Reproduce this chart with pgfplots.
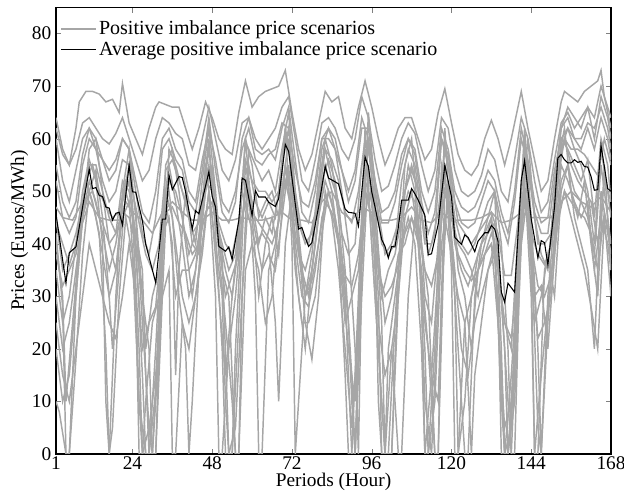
\documentclass[border=0pt]{standalone}
\usepackage{fontspec}
\setmainfont{Liberation Serif}
\usepackage{pgfplots}
\pgfplotsset{compat=1.18}

\definecolor{scgray}{RGB}{166,166,166}
\pgfplotsset{scen/.style={color=scgray, line width=1.1pt, forget plot}}

\begin{document}
\begin{tikzpicture}
\begin{axis}[
    scale only axis,
    width=416.25pt, height=335pt,
    xmin=1, xmax=168, ymin=0, ymax=85,
    xtick={1,24,48,72,96,120,144,168},
    ytick={0,10,...,80},
    tick align=inside, tick pos=both,
    major tick length=4pt,
    font=\fontsize{14.5}{17}\selectfont,
    /pgf/number format/assume math mode=true,
    xlabel={Periods (Hour)}, ylabel={Prices (Euros/MWh)},
    xlabel style={inner sep=0pt, yshift=-2.5pt}, ylabel style={yshift=-4pt},
    xticklabel style={inner sep=0.5pt, yshift=-1pt},
    axis line style={line width=0.9pt},
    legend style={at={(axis description cs:0,1)}, anchor=north west,
        draw=none, fill=none, xshift=0pt, yshift=-6pt,
        row sep=-0.5pt, font=\fontsize{15}{17}\selectfont},
    legend cell align=left,
    legend image code/.code={\draw[#1] (0pt,0pt) -- (26pt,0pt);},
  ]
  % top envelope scenario
  \addplot[color=scgray, line width=1.1pt] coordinates {
    (1,64)(3,58)(5,55)(7,62)(8,67)(10,69)(12,69)(14,68.5)(16,67)(18,67.5)(20,65)(21,70.5)(23,63)(25,60)(27,57)(29,62)(31,66)(32,67)(34,66.5)(36,66)(38,66)(40,62)(42,58)(44,62)(46,67)(48,64)(50,60)(52,58)(54,57)(56,65)(58,71)(60,66)(62,68)(64,69)(66,69.5)(68,70)(70,73)(72,65)(74,58)(76,54)(78,57)(80,63)(82,69)(84,67)(86,68)(88,62)(90,60)(92,66)(94,71)(96,66)(98,60)(100,55)(102,58)(104,62)(106,64)(108,64)(110,60)(112,56)(114,58)(116,65)(118,69.5)(120,63)(122,57)(124,54)(126,53)(128,55)(130,60)(132,63.5)(134,60)(136,55)(138,60)(140,66)(141,69)(143,62)(145,56)(147,50)(149,52)(151,60)(153,67)(154,69)(156,68)(158,67)(160,69)(162,70)(164,71)(165,73)(166,68)(168,62)
  };
  \addlegendentry{Positive imbalance price scenarios}
  \addplot[scen] coordinates {
    (1,62)(3,57)(5,55)(7,58)(9,63)(11,64)(13,62)(15,60)(17,59)(19,61)(21,64)(23,60)(25,56)(27,52)(29,54)(31,60)(33,64)(35,63)(37,61)(39,60)(41,55)(43,54)(45,60)(47,66)(49,60)(51,54)(53,52)(55,56)(57,63)(59,64)(61,60)(63,58)(65,60)(67,62)(69,66)(71,68)(73,60)(75,52)(77,50)(79,56)(81,63)(83,64)(85,62)(87,58)(89,56)(91,60)(93,68)(95,64)(97,56)(99,50)(101,51)(103,55)(105,60)(107,63)(109,61)(111,55)(113,50)(115,54)(117,64)(119,62)(121,54)(123,50)(125,49)(127,50)(129,53)(131,58)(133,56)(135,50)(137,48)(139,56)(141,64)(143,60)(145,52)(147,46)(149,48)(151,56)(153,63)(155,65)(157,62)(159,64)(161,66)(163,64)(165,70)(167,66)(168,64)
  };
  \addplot[scen] coordinates {
    (1,60)(3,52)(5,48)(7,54)(9,60)(11,62)(13,58)(15,56)(17,54)(19,56)(21,60)(23,58)(25,52)(27,46)(29,44)(31,50)(33,60)(35,62)(37,58)(39,56)(41,50)(43,48)(45,56)(47,62)(49,56)(51,48)(53,46)(55,50)(57,58)(59,62)(61,56)(63,55)(65,57)(67,58)(69,63)(71,62)(73,54)(75,48)(77,47)(79,52)(81,60)(83,60)(85,58)(87,54)(89,50)(91,54)(93,64)(95,60)(97,52)(99,46)(101,47)(103,50)(105,57)(107,60)(109,58)(111,50)(113,46)(115,50)(117,62)(119,58)(121,50)(123,47)(125,46)(127,47)(129,50)(131,54)(133,52)(135,46)(137,42)(139,50)(141,62)(143,56)(145,48)(147,44)(149,45)(151,54)(153,60)(155,62)(157,60)(159,60)(161,63)(163,62)(165,66)(167,62)(168,58)
  };
  \addplot[scen] coordinates {
    (1,47)(3,45)(6,44.5)(9,48)(12,50)(14,45)(17,44.5)(20,44.5)(22,48)(24,46)(27,44.5)(30,42)(33,46)(36,48)(39,46)(42,44.5)(45,44.5)(48,46)(51,44.5)(54,44.5)(57,45)(60,44.5)(63,44.5)(66,45)(69,46)(72,44.5)(75,44.5)(78,44)(81,48)(84,50)(87,46)(90,44.5)(93,47)(96,46)(99,44.5)(102,44.5)(105,45)(108,47)(111,44.5)(114,44)(117,46)(120,44.5)(123,44.5)(126,44.5)(129,45)(132,46)(135,44)(138,44.5)(141,46)(144,45)(147,45)(150,45)(153,48)(156,50)(159,48)(162,47)(165,49)(168,46)
  };
  \addplot[scen] coordinates {
    (1,44)(3,40)(5,36)(8,42)(10,52)(12,55)(14,50)(16,47)(18,45)(20,46)(22,52)(24,50)(26,44)(28,38)(30,35)(32,40)(34,54)(36,56)(38,52)(40,48)(42,42)(44,44)(46,52)(48,50)(50,44)(52,40)(54,38)(56,44)(58,56)(60,52)(62,50)(64,50)(66,48)(68,50)(70,60)(72,55)(74,44)(76,40)(78,42)(80,48)(82,58)(84,56)(86,52)(88,46)(90,44)(92,50)(94,60)(96,55)(98,46)(100,38)(102,40)(104,44)(106,50)(108,54)(110,50)(112,40)(114,40)(116,46)(118,58)(120,52)(122,44)(124,42)(126,40)(128,42)(130,44)(132,46)(134,42)(136,34)(138,34)(140,44)(142,58)(144,50)(146,40)(148,40)(150,42)(152,54)(154,60)(156,58)(158,58)(160,57)(162,55)(164,53)(166,60)(168,55)
  };
  \addplot[scen] coordinates {
    (1,10)(2,8)(4,0)(5,0)(7,18)(9,38)(11,50)(13,54)(15,45)(17,30)(18,20)(20,35)(22,50)(24,45)(26,20)(27,0)(29,0)(31,12)(33,45)(35,55)(37,48)(39,40)(41,30)(43,35)(45,48)(47,60)(49,42)(51,20)(52,0)(54,0)(56,25)(58,55)(60,48)(62,40)(64,45)(66,42)(68,50)(70,62)(72,40)(73,0)(74,10)(76,30)(78,38)(80,50)(82,60)(84,55)(86,45)(88,30)(90,0)(91,0)(92,20)(94,58)(96,50)(98,30)(99,0)(101,0)(103,25)(105,45)(107,55)(109,50)(111,30)(112,0)(113,0)(115,20)(117,55)(119,48)(121,30)(122,0)(124,10)(126,30)(128,38)(130,42)(132,45)(134,30)(135,0)(137,0)(139,15)(141,50)(142,62)(144,45)(146,20)(147,0)(149,30)(151,45)(153,58)(155,62)(157,58)(159,55)(161,50)(163,40)(165,58)(167,50)(168,45)
  };
  \addplot[scen] coordinates {
    (1,30)(3,20)(5,25)(7,35)(9,45)(11,58)(13,60)(15,50)(17,40)(19,35)(21,48)(23,55)(25,40)(27,15)(28,0)(30,0)(32,20)(34,50)(36,45)(38,30)(40,20)(41,0)(42,10)(44,35)(46,55)(48,45)(50,30)(52,15)(54,30)(56,40)(58,60)(60,45)(62,30)(64,40)(66,45)(68,38)(70,55)(72,45)(74,30)(76,20)(78,35)(80,45)(82,55)(84,50)(86,40)(88,15)(89,0)(90,0)(92,30)(94,62)(96,40)(98,20)(100,0)(102,0)(104,35)(106,55)(108,60)(110,45)(112,10)(114,0)(116,30)(118,62)(120,40)(122,20)(124,0)(125,0)(127,30)(129,40)(131,45)(133,50)(135,20)(136,0)(138,5)(140,40)(142,58)(144,35)(145,0)(146,0)(148,35)(150,40)(152,55)(154,62)(156,50)(158,45)(160,52)(162,40)(164,30)(166,55)(168,35)
  };
  \addplot[scen] coordinates {
    (1,40)(3,30)(4,10)(6,25)(8,40)(10,52)(12,48)(14,42)(16,20)(17,0)(18,5)(20,30)(22,45)(24,38)(26,10)(27,0)(28,10)(30,25)(32,30)(34,48)(36,40)(37,15)(38,35)(40,50)(42,40)(44,38)(46,50)(48,55)(50,38)(52,25)(54,10)(55,0)(56,0)(58,35)(60,40)(62,35)(64,25)(66,30)(68,45)(70,55)(72,50)(74,40)(76,25)(78,18)(80,30)(82,50)(84,45)(86,35)(88,20)(90,5)(92,25)(94,50)(96,45)(98,25)(100,15)(102,20)(104,0)(105,0)(107,30)(109,45)(111,35)(113,20)(115,0)(116,0)(118,45)(120,38)(122,30)(124,25)(126,0)(127,15)(129,25)(131,35)(133,38)(135,15)(136,0)(137,0)(139,20)(141,50)(143,45)(145,25)(147,30)(149,38)(151,30)(153,50)(155,55)(157,45)(159,40)(161,35)(163,20)(165,50)(167,42)(168,38)
  };
  \addplot[scen] coordinates {
    (1,25)(3,15)(5,10)(7,20)(9,30)(11,40)(13,35)(15,30)(17,25)(19,22)(21,30)(23,40)(25,30)(26,0)(27,0)(29,5)(31,15)(33,30)(35,35)(36,0)(37,0)(39,25)(41,20)(43,30)(45,40)(47,50)(49,30)(50,0)(51,0)(53,20)(55,30)(57,45)(59,50)(61,30)(62,0)(63,0)(65,35)(67,40)(69,50)(71,60)(73,40)(75,30)(77,28)(79,35)(81,45)(83,50)(85,45)(87,35)(89,20)(91,10)(93,40)(95,50)(97,30)(99,10)(100,0)(101,20)(103,30)(105,40)(107,45)(109,40)(111,20)(112,0)(114,15)(116,35)(118,55)(120,35)(121,0)(122,0)(124,25)(126,30)(128,35)(130,38)(132,40)(134,25)(136,5)(138,10)(140,30)(142,50)(144,38)(146,22)(148,25)(150,30)(152,45)(154,50)(156,45)(158,40)(160,35)(162,28)(164,20)(166,45)(168,30)
  };
  \addplot[scen] coordinates {
    (1,52)(3,45)(5,42)(7,45)(9,55)(11,60)(13,58)(15,52)(17,48)(19,50)(21,56)(23,55)(25,46)(27,30)(29,20)(30,0)(31,0)(33,30)(35,58)(37,55)(39,50)(41,45)(43,40)(45,52)(47,62)(49,50)(51,35)(53,30)(55,0)(56,0)(57,30)(59,58)(61,55)(63,52)(65,54)(67,50)(69,58)(71,65)(73,50)(75,42)(77,40)(79,46)(81,58)(83,62)(85,58)(87,50)(89,40)(91,20)(92,0)(93,35)(95,65)(97,50)(99,40)(101,38)(103,40)(105,52)(107,58)(109,55)(111,46)(113,38)(115,42)(117,60)(119,55)(121,45)(123,40)(125,38)(127,40)(129,44)(131,48)(133,50)(135,40)(137,20)(138,0)(139,0)(141,45)(143,60)(145,45)(147,38)(149,35)(151,50)(153,62)(155,64)(157,60)(159,58)(161,62)(163,58)(165,64)(167,60)(168,56)
  };
  \addplot[scen] coordinates {
    (1,35)(3,25)(5,30)(7,40)(9,50)(11,56)(13,52)(15,40)(16,10)(17,0)(19,30)(21,50)(23,58)(25,45)(27,25)(29,5)(30,0)(32,25)(34,55)(36,58)(38,50)(40,40)(42,30)(44,40)(46,55)(48,52)(50,42)(52,35)(54,30)(56,42)(58,60)(60,55)(62,45)(64,48)(66,50)(68,45)(70,62)(72,55)(74,38)(76,35)(78,40)(80,52)(82,58)(84,52)(86,48)(88,35)(90,15)(91,0)(93,40)(95,60)(97,45)(99,25)(100,0)(102,0)(104,30)(106,50)(108,55)(110,50)(112,30)(114,25)(116,40)(118,60)(120,50)(122,35)(124,30)(126,20)(128,35)(130,40)(132,45)(134,35)(136,25)(138,20)(140,42)(142,60)(144,40)(146,5)(147,0)(149,25)(151,42)(153,60)(155,58)(157,55)(159,52)(161,56)(163,45)(165,60)(167,55)(168,48)
  };
  \addplot[scen] coordinates {
    (1,45)(3,35)(5,38)(7,42)(9,48)(11,55)(13,55)(15,50)(17,45)(19,42)(21,52)(23,50)(25,42)(27,35)(28,15)(29,0)(31,0)(33,40)(35,52)(37,50)(39,45)(41,38)(43,42)(45,48)(47,58)(49,46)(51,38)(53,0)(54,0)(55,20)(57,45)(59,55)(61,48)(63,45)(65,48)(67,45)(69,55)(71,62)(73,45)(75,35)(77,30)(79,40)(81,52)(83,56)(85,52)(87,42)(89,38)(91,40)(93,55)(95,58)(97,48)(99,30)(101,35)(103,38)(105,45)(107,50)(109,48)(111,40)(113,30)(115,0)(116,0)(117,30)(119,52)(121,40)(123,35)(125,32)(127,36)(129,40)(131,42)(133,44)(135,30)(137,10)(138,0)(140,30)(142,55)(144,42)(146,38)(148,36)(150,40)(152,52)(154,60)(156,55)(158,52)(160,50)(162,48)(164,40)(166,52)(168,48)
  };
  \addplot[scen] coordinates {
    (1,20)(3,10)(5,15)(7,30)(9,45)(11,50)(13,45)(15,38)(17,30)(19,35)(21,45)(23,48)(25,30)(26,10)(28,0)(29,0)(31,20)(33,45)(35,50)(37,40)(39,30)(41,25)(43,30)(45,38)(47,50)(49,40)(51,30)(52,10)(53,0)(55,5)(57,30)(59,50)(61,42)(63,35)(65,38)(67,35)(69,45)(71,55)(73,35)(75,25)(77,25)(79,30)(81,42)(83,50)(85,45)(87,38)(89,25)(90,10)(91,0)(93,30)(95,55)(97,40)(98,10)(99,0)(100,0)(102,20)(104,30)(106,45)(108,50)(110,42)(112,20)(113,0)(115,10)(117,40)(119,48)(121,35)(123,20)(125,15)(127,25)(129,30)(131,35)(133,40)(135,10)(136,0)(138,15)(140,35)(142,52)(144,30)(145,0)(147,15)(149,28)(151,40)(153,55)(155,52)(157,48)(159,45)(161,48)(163,35)(165,45)(167,40)(168,35)
  };
  \addplot[scen] coordinates {
    (1,55)(3,48)(5,45)(7,48)(9,57)(11,62)(13,60)(15,56)(17,52)(19,54)(21,60)(23,58)(25,50)(27,42)(29,38)(31,45)(33,58)(35,60)(37,56)(39,54)(41,48)(43,46)(45,54)(47,64)(49,54)(51,46)(53,44)(55,48)(57,60)(59,64)(61,58)(63,57)(65,58)(67,56)(69,62)(71,66)(73,56)(75,46)(77,44)(79,50)(81,60)(83,62)(85,60)(87,54)(89,48)(91,52)(93,62)(95,62)(97,52)(99,44)(101,44)(103,48)(105,55)(107,60)(109,57)(111,48)(113,42)(115,46)(117,60)(119,57)(121,48)(123,44)(125,43)(127,44)(129,48)(131,52)(133,50)(135,44)(137,40)(139,48)(141,60)(143,55)(145,46)(147,42)(149,42)(151,52)(153,62)(155,66)(157,64)(159,62)(161,66)(163,60)(165,68)(167,64)(168,60)
  };
  \addplot[scen] coordinates {
    (1,42)(3,28)(4,0)(5,0)(7,30)(9,45)(11,52)(13,48)(15,42)(17,35)(19,40)(21,48)(23,52)(25,38)(27,20)(29,25)(31,28)(33,42)(35,45)(37,30)(39,35)(41,35)(43,38)(45,45)(47,55)(49,45)(51,40)(53,35)(55,38)(57,50)(59,45)(61,40)(63,42)(65,40)(67,25)(68,10)(70,40)(72,50)(74,42)(76,30)(78,35)(80,45)(82,52)(84,48)(86,40)(88,25)(90,30)(92,35)(94,52)(96,48)(98,38)(100,25)(102,30)(104,38)(106,40)(108,45)(110,40)(112,25)(114,15)(116,10)(118,50)(120,45)(122,40)(124,38)(126,35)(128,30)(130,38)(132,42)(134,38)(136,20)(137,0)(139,10)(141,40)(143,50)(145,30)(147,32)(149,20)(151,38)(153,52)(155,55)(157,50)(159,48)(161,45)(163,38)(165,55)(167,45)(168,40)
  };
  \addplot[scen] coordinates {
    (1,38)(3,32)(5,35)(7,38)(9,44)(11,48)(13,46)(15,44)(17,40)(19,42)(21,46)(23,45)(25,40)(27,30)(28,20)(30,30)(32,35)(34,46)(36,47)(38,44)(40,42)(42,38)(44,40)(46,46)(48,48)(50,40)(52,30)(54,34)(56,38)(58,50)(60,46)(62,44)(64,42)(66,40)(68,44)(70,52)(72,46)(74,38)(76,30)(78,33)(80,40)(82,48)(84,46)(86,40)(88,34)(90,32)(92,38)(94,50)(96,45)(98,35)(100,30)(102,32)(104,36)(106,42)(108,45)(110,42)(112,35)(114,32)(116,38)(118,50)(120,45)(122,38)(124,35)(126,33)(128,35)(130,38)(132,40)(134,35)(136,25)(138,22)(140,35)(142,48)(144,40)(146,32)(148,30)(150,34)(152,44)(154,50)(156,48)(158,46)(160,45)(162,42)(164,35)(166,46)(168,40)
  };
  % average scenario
  \addplot[color=black, line width=0.8pt] coordinates {
    (1,45.7)(4,32.5)(5,38.3)(7,39.4)(9,47)(11,54.2)(12,50.5)(13,50.7)(14,49.2)(15,49)(16,47)(17,46.8)(18,44.5)(19,45.8)(20,46)(21,43.6)(23,55)(24,49.9)(25,49.8)(27,44.4)(28,39.9)(31,32.6)(33,44.7)(34,44.7)(35,53.1)(36,50.3)(38,52.8)(39,52.6)(40,49.9)(41,46.3)(42,42.8)(43,46.3)(44,45.7)(45,48.3)(47,53.7)(48,49)(49,47)(50,39.5)(52,38.6)(53,39.4)(54,37)(56,44.4)(57,52.5)(58,52.1)(60,45.4)(61,50.1)(62,48.9)(64,48.9)(65,47.9)(67,47.1)(68,48.6)(70,58.9)(71,57.6)(73,47.6)(74,42.8)(75,43.1)(76,41.2)(77,39.5)(78,40.2)(80,47)(82,54.7)(83,52.5)(85,51.8)(86,51.4)(88,46.6)(89,46)(91,45.8)(92,43.4)(94,56.5)(95,54.7)(96,49.9)(97,47)(99,40.8)(100,39.5)(101,37.3)(102,39.5)(103,39.4)(104,43.1)(105,48.3)(107,48.3)(108,50.5)(109,49.5)(110,48.3)(112,45.4)(113,37.9)(114,38.1)(116,43.7)(118,55)(120,48.9)(121,41.2)(123,39.9)(124,41.7)(125,41.2)(127,38.5)(128,40.5)(130,42.1)(131,42.1)(132,43.5)(133,42.8)(134,40.5)(135,30.8)(136,28.9)(137,32.5)(139,30.8)(141,52.1)(142,55.8)(144,44.7)(146,37.3)(147,40.6)(148,40.2)(149,36)(151,47)(152,56.3)(153,57)(154,56)(155,55.4)(156,55.4)(157,56)(158,55.5)(159,55.7)(160,54.7)(161,54.6)(162,52.8)(163,50.2)(164,50.3)(165,58.7)(166,54.7)(167,50.5)(168,50)
  };
  \addlegendentry{Average positive imbalance price scenario}
\end{axis}
\pgfresetboundingbox
\path[use as bounding box] ([xshift=-42pt,yshift=-29pt]current axis.south west)
  rectangle ([xshift=9.75pt,yshift=5.5pt]current axis.north east);
\end{tikzpicture}
\end{document}
